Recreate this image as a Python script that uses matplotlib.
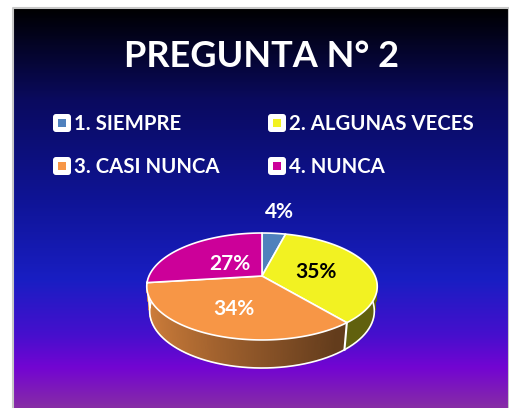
import numpy as np
import matplotlib.pyplot as plt
from matplotlib.patches import Polygon, FancyBboxPatch, Rectangle
from matplotlib.collections import PolyCollection

plt.rcParams['font.family'] = ['Lato', 'DejaVu Sans']

title = 'PREGUNTA N° 2'
categories = ['1. SIEMPRE', '2. ALGUNAS VECES', '3. CASI NUNCA', '4. NUNCA']
values = [4, 35, 34, 27]
pct_labels = ['4%', '35%', '34%', '27%']

colors = ['#4f81bd', '#f2f222', '#f79646', '#cc0099']
label_colors = ['white', 'black', 'white', 'white']
label_r = [1.68, 0.5, 0.6, 0.4]

# background gradient stops (pixel row, rgb)
bg_y = [8, 100, 200, 280, 335, 368, 408]
bg_rgb = [(0, 0, 0), (10, 10, 95), (15, 20, 150), (25, 30, 195),
          (70, 15, 205), (115, 5, 210), (135, 45, 165)]

# 3d pie camera
cx, cy, S = 262, 276, 113
sa, ca = 0.455, 0.89
D = 4.54
H = 0.247


def proj(u, v, z=0.0):
    h = v * sa + z * ca
    d = D + v * ca - z * sa
    f = D / d
    return cx + S * u * f, cy - S * h * f


def shade(u):
    return np.clip(0.85 - 0.29 * (u + 1), 0.4, 1.0)


fig = plt.figure(figsize=(5.1, 4.08), dpi=100)
ax = fig.add_axes([0, 0, 1, 1])
ax.set_xlim(0, 510)
ax.set_ylim(408, 0)
ax.axis('off')

# background
rows = np.arange(8, 409)
grad = np.zeros((len(rows), 1, 3))
for k in range(3):
    grad[:, 0, k] = np.interp(rows, bg_y, [c[k] for c in bg_rgb]) / 255
ax.imshow(grad, extent=[13, 509, 408, 8], aspect='auto', zorder=0)
ax.plot([13, 13, 509, 509], [408, 8, 8, 408], color='#c8c8c8', lw=1.5, zorder=1)

# pie
fr = np.array(values, dtype=float) / sum(values)
cum = np.concatenate([[0], np.cumsum(fr)])
t_start = 90 - 360 * cum[:-1]
t_end = 90 - 360 * cum[1:]

# side walls
for i in range(len(values)):
    ts = np.radians(np.linspace(t_start[i], t_end[i], 300))
    base = np.array(plt.matplotlib.colors.to_rgb(colors[i]))
    polys, fcs = [], []
    for a, b in zip(ts[:-1], ts[1:]):
        m = 0.5 * (a + b)
        if np.sin(m) > 0.02:
            continue
        p1 = proj(np.cos(a), np.sin(a))
        p2 = proj(np.cos(b), np.sin(b))
        p3 = proj(np.cos(b), np.sin(b), -H)
        p4 = proj(np.cos(a), np.sin(a), -H)
        polys.append([p1, p2, p3, p4])
        fcs.append(base * shade(np.cos(m)))
    if polys:
        ax.add_collection(PolyCollection(polys, facecolors=fcs, edgecolors=fcs,
                                         linewidths=0.6, zorder=2))
    # boundary line on the side
    tb = np.radians(t_end[i])
    if np.sin(tb) < 0:
        xa, ya = proj(np.cos(tb), np.sin(tb))
        xb, yb = proj(np.cos(tb), np.sin(tb), -H)
        ax.plot([xa, xb], [ya, yb], color='white', lw=1.5, zorder=2.5)

# bottom outline
tf = np.radians(np.linspace(180, 360, 200))
bx, by = proj(np.cos(tf), np.sin(tf), -H)
ax.plot(bx, by, color='white', lw=1.2, zorder=2.5)

# top faces
for i in range(len(values)):
    ts = np.radians(np.linspace(t_start[i], t_end[i], 200))
    px, py = proj(np.cos(ts), np.sin(ts))
    pts = np.column_stack([np.concatenate([[cx], px]), np.concatenate([[cy], py])])
    ax.add_patch(Polygon(pts, closed=True, facecolor=colors[i], edgecolor='white',
                         lw=1.2, joinstyle='round', zorder=3))

# percentage labels
for i in range(len(values)):
    tm = np.radians(0.5 * (t_start[i] + t_end[i]))
    lx, ly = proj(label_r[i] * np.cos(tm), label_r[i] * np.sin(tm))
    ax.text(lx, ly + 7, pct_labels[i], color=label_colors[i], fontsize=15,
            fontweight='bold', ha='center', va='baseline', zorder=5)

# title
ax.text(262, 67, title, color='white', fontsize=26, fontweight='bold',
        ha='center', va='baseline', zorder=5)

# legend
leg_x = [62, 277, 62, 277]
leg_y = [123, 123, 166, 166]
for i, lab in enumerate(categories):
    x0, y0 = leg_x[i], leg_y[i]
    ax.add_patch(FancyBboxPatch((x0 - 7, y0 - 7), 14, 14,
                                boxstyle='round,pad=2,rounding_size=3',
                                facecolor='white', edgecolor='none', zorder=4))
    ax.add_patch(Rectangle((x0 - 4, y0 - 4), 8, 8, facecolor=colors[i],
                           edgecolor='none', zorder=5))
    ax.text(x0 + 12, y0 + 7, lab, color='white', fontsize=14.7, fontweight='bold',
            ha='left', va='baseline', zorder=5)

fig.savefig('out.png', dpi=100)
